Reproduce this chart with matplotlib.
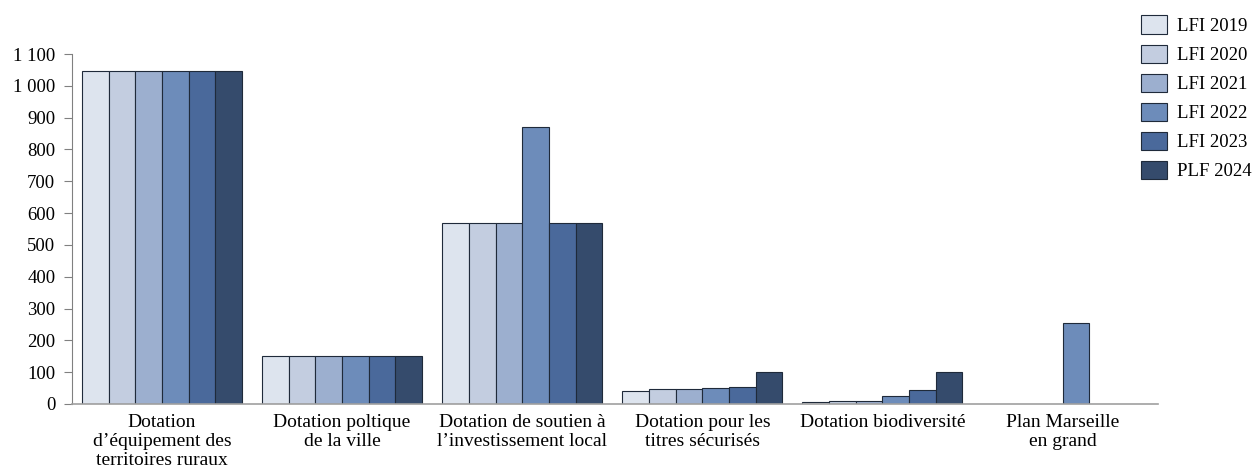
from matplotlib import pyplot as plt
from matplotlib.ticker import FuncFormatter
import numpy as np

categories = ["Dotation\nd\u2019\u00e9quipement des\nterritoires ruraux",
              "Dotation poltique\nde la ville",
              "Dotation de soutien \u00e0\nl\u2019investissement local",
              "Dotation pour les\ntitres s\u00e9curis\u00e9s",
              "Dotation biodiversit\u00e9",
              "Plan Marseille\nen grand"]
series = ["LFI 2019", "LFI 2020", "LFI 2021", "LFI 2022", "LFI 2023", "PLF 2024"]

lfi_2019 = [1046, 150, 570, 40, 5, 0]
lfi_2020 = [1046, 150, 570, 46, 8, 0]
lfi_2021 = [1046, 150, 570, 46, 8, 0]
lfi_2022 = [1046, 150, 870, 49, 24, 254]
lfi_2023 = [1046, 150, 570, 52, 43, 0]
plf_2024 = [1046, 150, 570, 100, 100, 0]
values = [lfi_2019, lfi_2020, lfi_2021, lfi_2022, lfi_2023, plf_2024]

colors = ["#dde4ee", "#c3cde0", "#9cafcf", "#6d8cba", "#4a699b", "#354b6c"]

plt.rcParams['font.family'] = ['Liberation Serif', 'DejaVu Serif']

fig = plt.figure(figsize=(12.58, 4.73), dpi=100)
ax = fig.add_axes([0.0572, 0.1459, 0.8633, 0.7399])

x = np.arange(len(categories))
w = 0.148
for i, (name, vals) in enumerate(zip(series, values)):
    v = np.array(vals, dtype=float)
    v[v == 0] = np.nan  # pas de barre pour les valeurs nulles
    ax.bar(x + (i - 2.5) * w, v, width=w, color=colors[i], edgecolor="#1f2a3a",
           linewidth=0.8, label=name)

ax.set_xlim(-0.5, 5.53)
ax.set_ylim(0, 1100)
ax.set_yticks(range(0, 1101, 100))
ax.yaxis.set_major_formatter(FuncFormatter(lambda v, p: f"{int(v):,}".replace(",", " ")))
ax.set_xticks(x)
ax.set_xticklabels(categories, fontsize=14, linespacing=1.18)
ax.tick_params(axis="x", length=0, pad=7)
ax.tick_params(axis="y", labelsize=13.5, length=6, color="#808080", pad=6)
for s in ["top", "right"]:
    ax.spines[s].set_visible(False)
ax.spines["left"].set_color("#808080")
ax.spines["bottom"].set_color("#a0a0a0")
ax.spines["bottom"].set_linewidth(1.2)

fig.legend(loc="upper right", bbox_to_anchor=(1.0055, 0.995), frameon=False, fontsize=13.5,
           handlelength=1.4, handleheight=1.15, labelspacing=0.5, handletextpad=0.55,
           borderaxespad=0.3)

plt.savefig("out.png", dpi=100)
